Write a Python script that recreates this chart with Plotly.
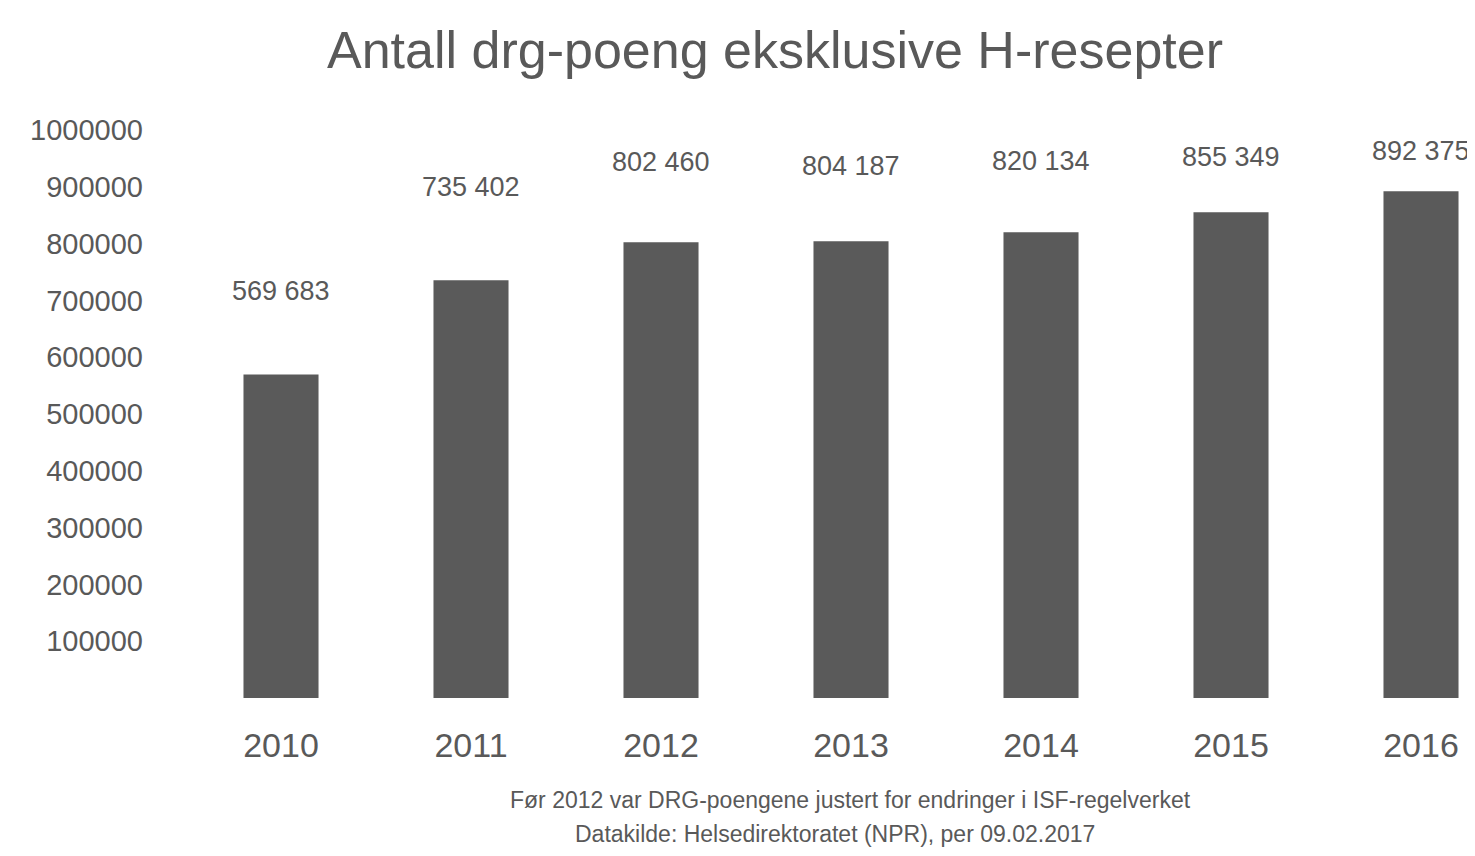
import plotly.graph_objects as go

# ---- data ----
years = ["2010", "2011", "2012", "2013", "2014", "2015", "2016"]
drg_points = [569683, 735402, 802460, 804187, 820134, 855349, 892375]
value_labels = ["569 683", "735 402", "802 460", "804 187", "820 134", "855 349", "892 375"]
y_tick_values = [100000, 200000, 300000, 400000, 500000, 600000, 700000, 800000, 900000, 1000000]
y_tick_labels = ["100000", "200000", "300000", "400000", "500000", "600000", "700000", "800000", "900000", "1000000"]

title_text = "Antall drg-poeng eksklusive H-resepter"
note_line1 = "Før 2012 var DRG-poengene justert for endringer i ISF-regelverket"
note_line2 = "Datakilde: Helsedirektoratet (NPR), per 09.02.2017"

# label lift above bar tops (pixels) – layout only
label_lift_px = [83, 93, 80, 75, 71, 55, 40]

FONT = "Liberation Sans"
TEXT = "#595959"
BAR = "#5a5a5a"

W, H = 1475, 856
ML, MR, MT, MB = 178, 0, 122, 166
PW, PH = W - ML - MR, H - MT - MB
OFF = 8  # page body offset


def px_x(px):
    return (px - OFF - ML) / PW


def px_y(py):
    return (H - MB - (py - OFF)) / PH


fig = go.Figure()
fig.add_trace(go.Bar(
    x=list(range(len(years))),
    y=drg_points,
    width=0.395,
    marker=dict(color=BAR, line=dict(width=0)),
    hoverinfo="skip",
))

for i, (v, lab) in enumerate(zip(drg_points, value_labels)):
    fig.add_annotation(
        x=i, y=v, xref="x", yref="y", text=lab, showarrow=False,
        yshift=label_lift_px[i], yanchor="middle", xanchor="center",
        font=dict(family=FONT, size=27, color=TEXT),
    )

fig.add_annotation(
    x=px_x(775), y=px_y(50), xref="paper", yref="paper",
    text=title_text, showarrow=False, xanchor="center", yanchor="middle",
    font=dict(family=FONT, size=52, color=TEXT),
)
fig.add_annotation(
    x=px_x(850), y=px_y(800), xref="paper", yref="paper",
    text=note_line1, showarrow=False, xanchor="center", yanchor="middle",
    font=dict(family=FONT, size=23, color=TEXT),
)
fig.add_annotation(
    x=px_x(835), y=px_y(834), xref="paper", yref="paper",
    text=note_line2, showarrow=False, xanchor="center", yanchor="middle",
    font=dict(family=FONT, size=23, color=TEXT),
)

fig.update_layout(
    width=W, height=H,
    margin=dict(l=ML, r=MR, t=MT, b=MB, pad=0),
    paper_bgcolor="white", plot_bgcolor="white",
    showlegend=False,
    xaxis=dict(
        range=[-0.5, -0.5 + PW / 190.0], tickmode="array",
        tickvals=list(range(len(years))), ticktext=years,
        showgrid=False, zeroline=False, showline=False, ticks="",
        tickfont=dict(family=FONT, size=34, color=TEXT),
        ticklabelstandoff=24, fixedrange=True,
    ),
    yaxis=dict(
        range=[0, 1000000], tickmode="array",
        tickvals=y_tick_values, ticktext=y_tick_labels,
        showgrid=False, zeroline=False, showline=False, ticks="",
        tickfont=dict(family=FONT, size=29, color=TEXT),
        ticklabelstandoff=42, fixedrange=True,
    ),
)

fig.write_html("out.html")
